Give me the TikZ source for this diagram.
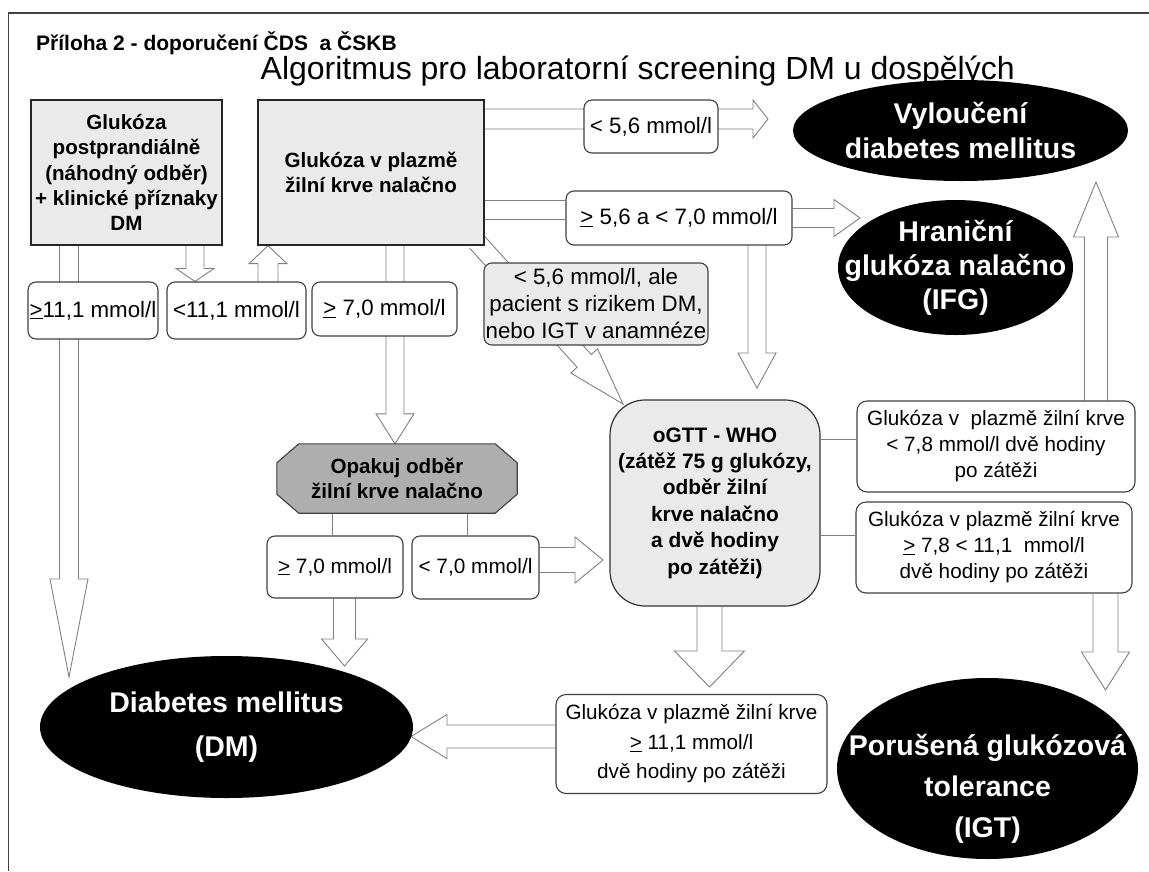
\documentclass[tikz,border=0pt]{standalone}
\usepackage{fontspec}
\setmainfont{Liberation Sans}
\usetikzlibrary{calc,shapes.geometric}
\pgfdeclarelayer{back}
\pgfsetlayers{back,main}

\definecolor{boxgray}{HTML}{EAEAEA}
\definecolor{repgray}{HTML}{AEAEAE}
\definecolor{shaft}{HTML}{808080}

\tikzset{
  startbox/.style={draw=black!85, line width=1.3pt, fill=boxgray, align=center, inner sep=0pt,
    font=\bfseries\fontsize{20.6}{25.4}\selectfont},
  testbox/.style={draw=black!80, line width=1.2pt, fill=boxgray, rounded corners=35pt, align=center,
    inner sep=0pt, font=\bfseries\fontsize{20.9}{26.4}\selectfont},
  valbox/.style={draw=black!75, line width=1.1pt, fill=white, rounded corners=8pt, align=center,
    inner sep=0pt, font=\fontsize{22.3}{27}\selectfont},
  infobox/.style={valbox, rounded corners=10pt, font=\fontsize{20.7}{26}\selectfont},
  result/.style={ellipse, fill=black, inner sep=0pt},
  restext/.style={text=white, align=center, inner sep=0pt, font=\bfseries\fontsize{28.5}{35}\selectfont},
  blockline/.style={draw=shaft, line width=0.9pt, fill=white},
  blocklink/.style={draw=shaft, line width=0.9pt, double=white, double distance=#1},
}

% hollow block arrow: from, to, shaft half width, head half width, head length
\newcommand{\blockarrow}[5]{%
  \path (#1) coordinate (ba-s) (#2) coordinate (ba-t);
  \path ($(ba-t)!#5!(ba-s)$) coordinate (ba-h);
  \draw[blockline] ($(ba-s)!#3!90:(ba-t)$) -- ($(ba-h)!#3!90:(ba-t)$) -- ($(ba-h)!#4!90:(ba-t)$)
    -- (ba-t) -- ($(ba-h)!#4!-90:(ba-t)$) -- ($(ba-h)!#3!-90:(ba-t)$) -- ($(ba-s)!#3!-90:(ba-t)$);
}

\begin{document}
\begin{tikzpicture}[x=1pt, y=-1pt]
    \useasboundingbox (0,0) rectangle (1149,871);
    \draw[black!75, line width=1.5pt] (1149,13) -- (8.5,13) -- (8.5,871);

    \node[anchor=base west, inner sep=0pt, font=\bfseries\fontsize{21}{25}\selectfont] (head) at (36,50) {Příloha 2 - doporučení ČDS\ \ a ČSKB};
    \node[anchor=base east, inner sep=0pt, font=\fontsize{32}{38}\selectfont] (title) at (1015,79) {Algoritmus pro laboratorní screening DM u dospělých};

    % start boxes
    \node[startbox, minimum width=191pt, minimum height=145pt] (A) at (126.5,172.5) {Glukóza\\postprandiálně\\(náhodný odběr)\\+ klinické příznaky\\DM};
    \node[startbox, minimum width=226pt, minimum height=145pt] (B) at (371,172.5) {Glukóza v plazmě\\žilní krve nalačno};

    % value boxes
    \node[valbox, minimum width=130pt, minimum height=57pt] (l111a) at (93,310.5) {\underline{>}11,1 mmol/l};
    \node[valbox, minimum width=139pt, minimum height=57pt] (l111b) at (236.5,310.5) {<11,1 mmol/l};
    \node[valbox, minimum width=145pt, minimum height=54pt] (l70) at (384.5,309) {\underline{>} 7,0 mmol/l};
    \node[valbox, fill=boxgray, minimum width=224pt, minimum height=82pt] (lrisk) at (596,304) {< 5,6 mmol/l, ale\\pacient s rizikem DM,\\nebo IGT v anamnéze};
    \node[valbox, minimum width=134pt, minimum height=53pt] (l56) at (651,126.5) {< 5,6 mmol/l};
    \node[valbox, minimum width=226pt, minimum height=54pt] (l567) at (679,218) {\underline{>} 5,6 a < 7,0 mmol/l};

    % results
    \node[result, minimum width=335pt, minimum height=101pt] (ev) at (960.5,130.5) {};
    \node[restext] (evt) at (ev) {Vyloučení\\diabetes mellitus};
    \node[result, minimum width=235pt, minimum height=135pt] (eh) at (955.5,267.5) {};
    \node[restext, font=\bfseries\fontsize{28.5}{34}\selectfont] (eht) at (eh) {Hraniční\\glukóza nalačno\\(IFG)};
    \node[result, minimum width=373pt, minimum height=142pt] (edm) at (226.5,727) {};
    \node[restext, font=\bfseries\fontsize{28.5}{44}\selectfont] (edmt) at (edm) {Diabetes mellitus\\(DM)};
    \node[result, minimum width=301pt, minimum height=181pt] (eigt) at (987.5,768.5) {};
    \node[restext, font=\bfseries\fontsize{28.5}{41}\selectfont] (eigtt) at (987.5,789) {Porušená glukózová\\tolerance\\(IGT)};

    % oGTT and repeat
    \node[testbox, minimum width=210pt, minimum height=206pt] (ogtt) at (715,503) {oGTT - WHO\\(zátěž 75 g glukózy,\\odběr žilní\\krve nalačno\\a dvě hodiny\\po zátěži)};
    \node[align=center, inner sep=0pt, minimum width=240pt, minimum height=69pt, font=\bfseries\fontsize{20.6}{25}\selectfont] (op) at (397,478.5) {Opakuj odběr\\žilní krve nalačno};
    \node[valbox, font=\fontsize{20.8}{26}\selectfont, minimum width=136pt, minimum height=62pt] (l70a) at (335,567) {\underline{>} 7,0 mmol/l};
    \node[valbox, font=\fontsize{20.8}{26}\selectfont, minimum width=127pt, minimum height=63pt] (l70b) at (475.5,567.5) {< 7,0 mmol/l};

    \node[infobox, minimum width=278pt, minimum height=91pt] (r1) at (996,446.5) {Glukóza v\ \ plazmě žilní krve\\< 7,8 mmol/l dvě hodiny\\po zátěži};
    \node[infobox, minimum width=276pt, minimum height=91pt] (r2) at (994,547.5) {Glukóza v plazmě žilní krve\\\underline{>} 7,8 < 11,1\ \ mmol/l\\dvě hodiny po zátěži};
    \node[infobox, font=\fontsize{20.7}{29.5}\selectfont, minimum width=271pt, minimum height=99pt] (bres) at (691.5,744) {Glukóza v plazmě žilní krve\\\underline{>} 11,1 mmol/l\\dvě hodiny po zátěži};

    \begin{pgfonlayer}{back}
        \coordinate (tA) at (69,677);
        \blockarrow{A.south -| tA}{tA}{9.5pt}{19pt}{98pt}
        \coordinate (x2) at (195,0);
        \blockarrow{A.south -| x2}{l111b.north -| x2}{9pt}{19pt}{13pt}
        \coordinate (x3) at (268,0);
        \blockarrow{l111b.north -| x3}{B.south -| x3}{10pt}{19pt}{18pt}
        \coordinate (x4) at (395,0);
        \blockarrow{B.south -| x4}{op.north -| x4}{9pt}{19pt}{30pt}
        \coordinate (t5) at (768,119);
        \blockarrow{B.east |- t5}{t5}{10pt}{19pt}{15pt}
        \coordinate (y6) at (0,210);
        \draw[blocklink=18pt] (B.east |- y6) -- (l567.west |- y6);
        \coordinate (t6) at (860,218);
        \blockarrow{l567.east |- t6}{t6}{9.5pt}{18.5pt}{26pt}
        \coordinate (d0) at ($(B.south east)+(-8,-4)$);
        \coordinate (t7) at (623,404);
        \blockarrow{d0}{t7}{9.5pt}{18pt}{58pt}
        \coordinate (t8) at (757,388);
        \blockarrow{l567.south -| t8}{t8}{9pt}{19pt}{35pt}
        \coordinate (y9) at (0,450.5);
        \draw[blocklink=22pt] (ogtt.east |- y9) -- (r1.west |- y9);
        \coordinate (y10) at (0,545);
        \draw[blocklink=19pt] (ogtt.east |- y10) -- (r2.west |- y10);
        \coordinate (t11) at (1096,182);
        \blockarrow{r1.north -| t11}{t11}{11.5pt}{22.5pt}{55pt}
        \coordinate (t12) at (1105.5,690);
        \blockarrow{r2.south -| t12}{t12}{12.5pt}{24pt}{38pt}
        \coordinate (x13) at (341.5,0);
        \draw[blocklink=18pt] (op.south -| x13) -- (l70a.north -| x13);
        \coordinate (x14) at (476.5,0);
        \draw[blocklink=18pt] (op.south -| x14) -- (l70b.north -| x14);
        \coordinate (t15) at (603,560);
        \blockarrow{l70b.east |- t15}{t15}{12.5pt}{23pt}{28pt}
        \coordinate (t16) at (344.5,666);
        \blockarrow{l70a.south -| t16}{t16}{11pt}{23pt}{27pt}
        \coordinate (t17) at (709.5,687);
        \blockarrow{ogtt.south -| t17}{t17}{12.5pt}{35pt}{36pt}
        \coordinate (t18) at (411,736.5);
        \blockarrow{bres.west |- t18}{t18}{11.5pt}{22pt}{36pt}
        % repeat box outline
        \draw[draw=black!75, line width=1.1pt, fill=repgray] ([xshift=22pt]op.north west) -- ([xshift=-22pt]op.north east)
            -- ([yshift=-19pt]op.north east) -- ([yshift=19pt]op.south east) -- ([xshift=-22pt]op.south east)
            -- ([xshift=22pt]op.south west) -- ([yshift=19pt]op.south west) -- ([yshift=-19pt]op.north west) -- cycle;
    \end{pgfonlayer}
\end{tikzpicture}
\end{document}
